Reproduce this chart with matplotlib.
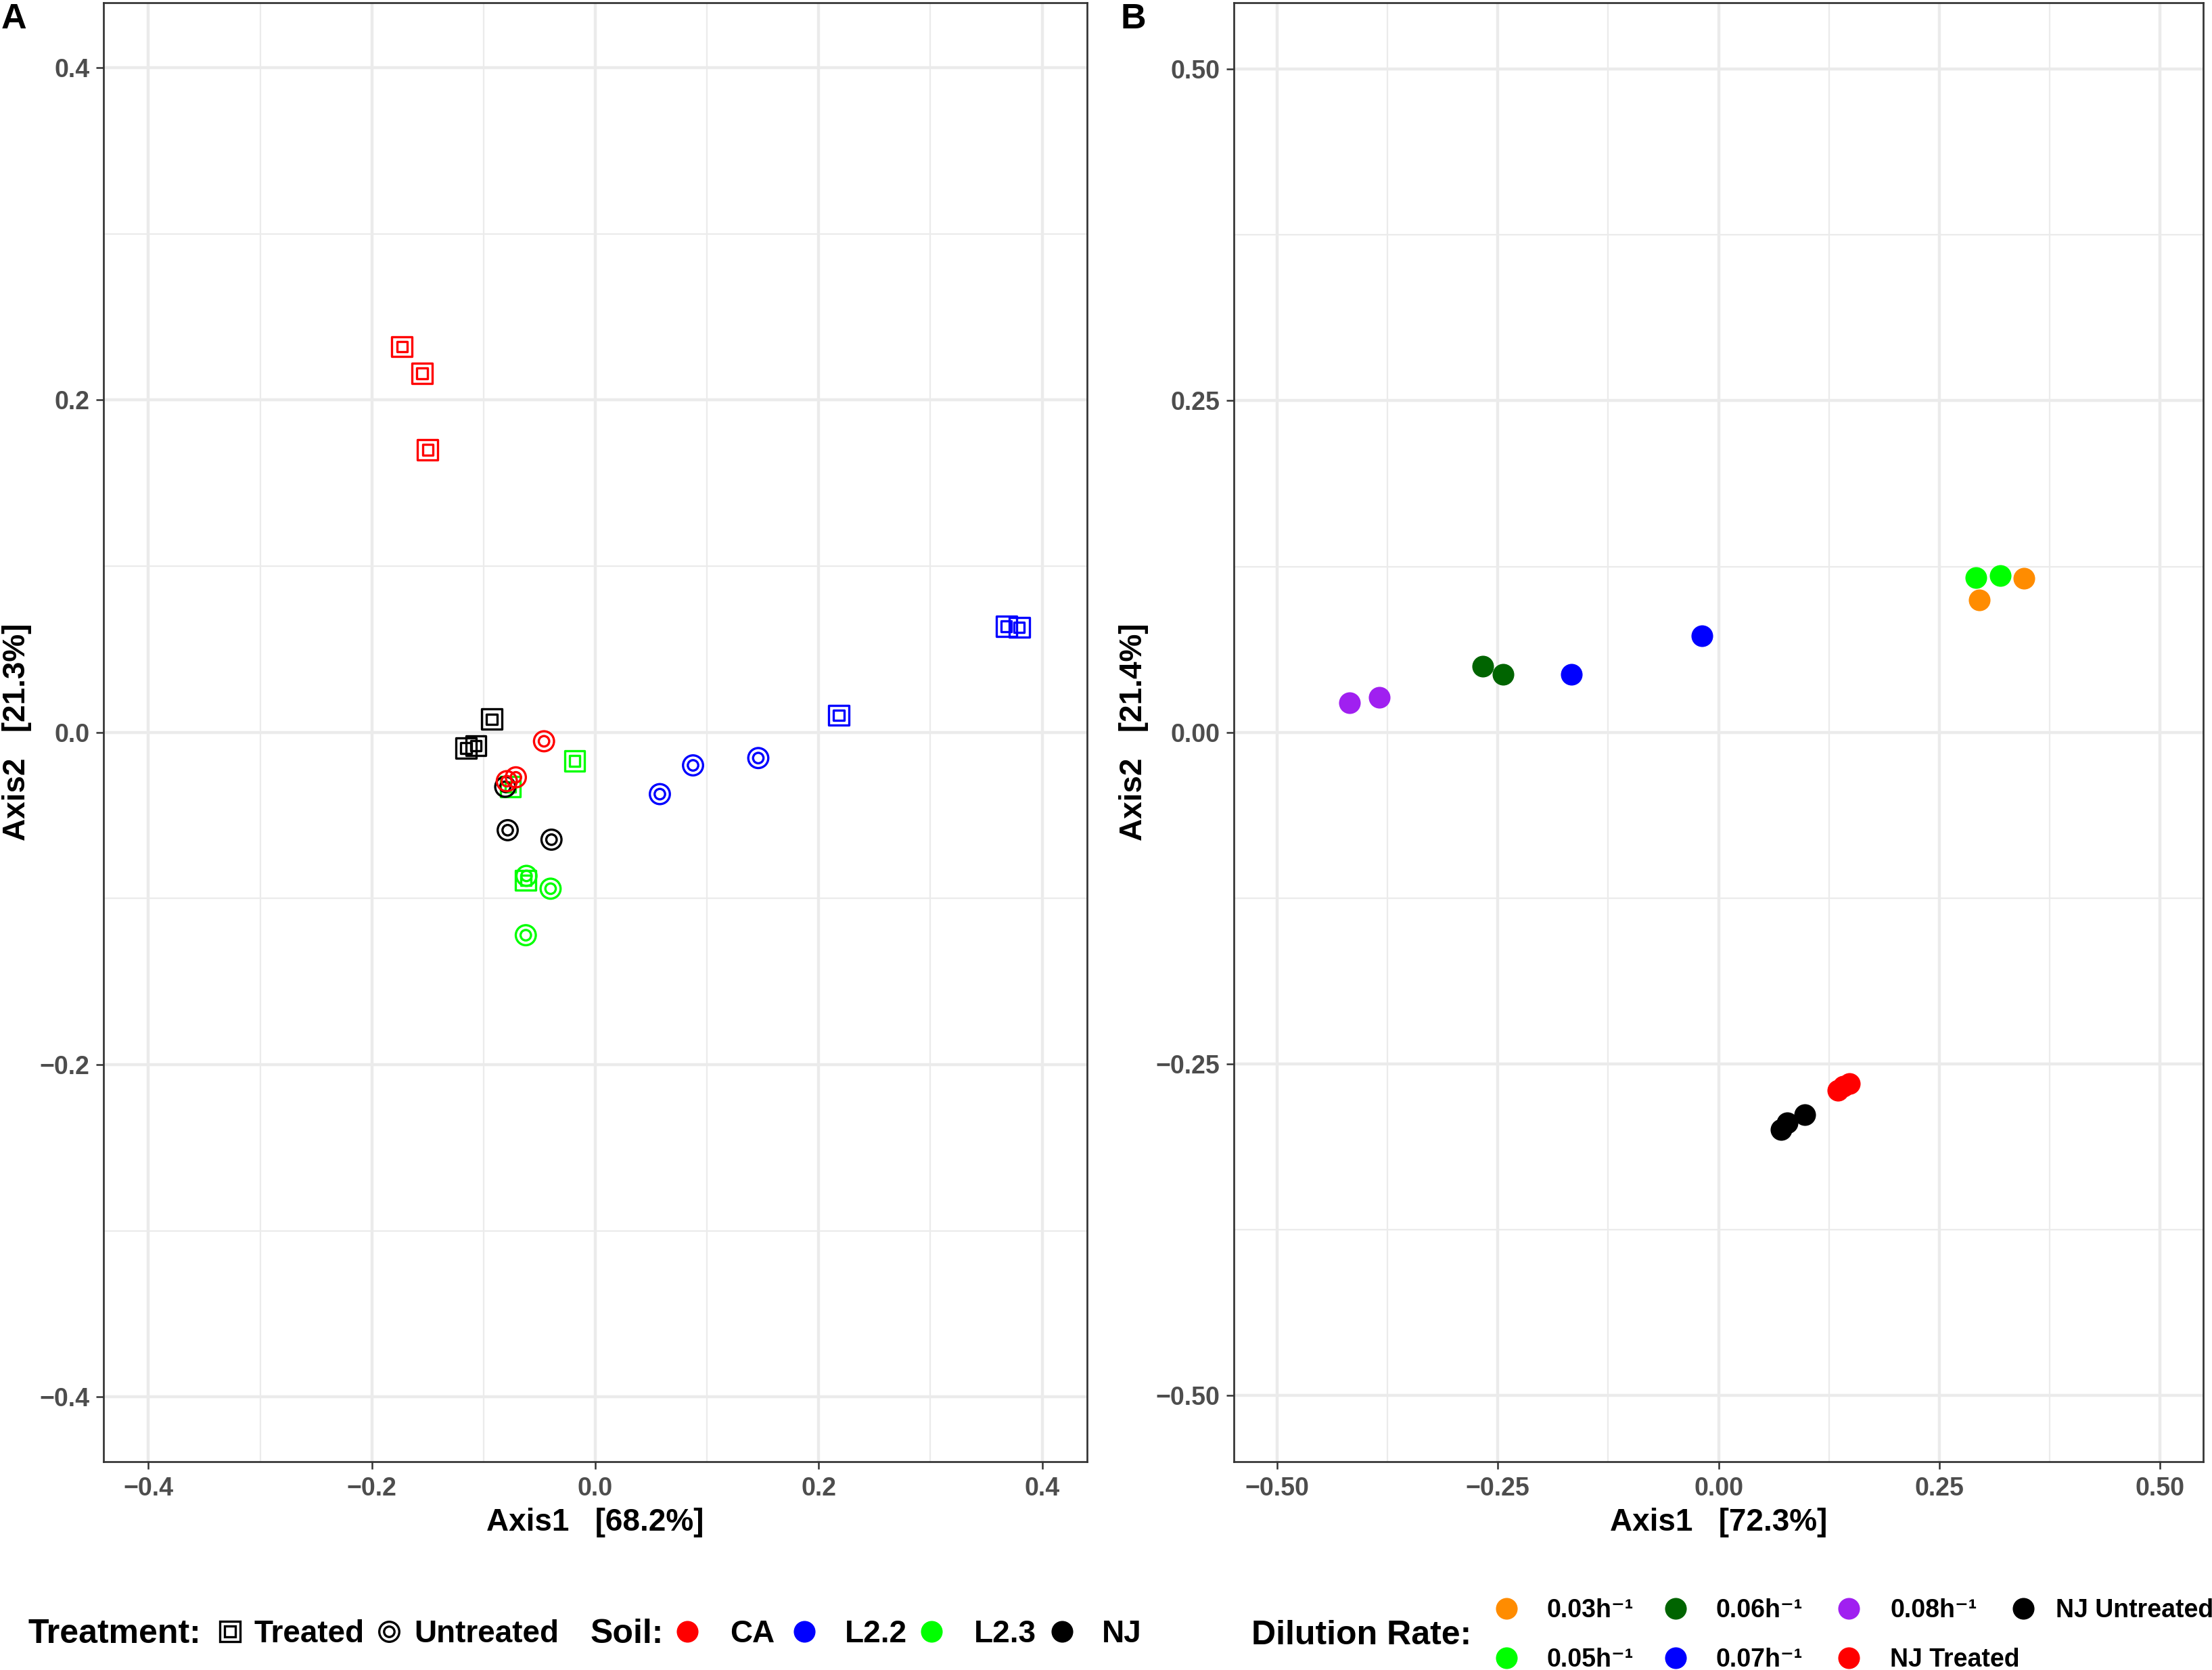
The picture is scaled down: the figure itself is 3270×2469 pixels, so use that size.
import matplotlib
matplotlib.use("Agg")
import matplotlib.pyplot as plt
from matplotlib.lines import Line2D
from matplotlib.ticker import FixedLocator, FuncFormatter

plt.rcParams['font.family'] = ['Liberation Sans', 'DejaVu Sans']
plt.rcParams['font.weight'] = 'bold'

W, H, DPI = 3270, 2469, 300

# ---------------- Panel A data ----------------
soils = ['CA', 'L2.2', 'L2.3', 'NJ']
soil_colors = ['#FF0000', '#0000FF', '#00FF00', '#000000']
treated_x = [[-0.173, -0.155, -0.150],
             [0.368, 0.3795, 0.218],
             [-0.0184, -0.0759, -0.0622],
             [-0.0927, -0.1157, -0.1068]]
treated_y = [[0.232, 0.216, 0.170],
             [0.0638, 0.0632, 0.0103],
             [-0.0172, -0.0328, -0.0891],
             [0.0079, -0.0095, -0.0080]]
untreated_x = [[-0.0459, -0.0711, -0.0792],
               [0.0578, 0.0875, 0.1459],
               [-0.0616, -0.0400, -0.0622],
               [-0.0806, -0.0784, -0.0392]]
untreated_y = [[-0.0054, -0.0271, -0.0294],
               [-0.0372, -0.0199, -0.0155],
               [-0.0864, -0.0941, -0.1221],
               [-0.0328, -0.0589, -0.0646]]
treatments = ['Treated', 'Untreated']
a_xlabel = 'Axis1   [68.2%]'
a_ylabel = 'Axis2   [21.3%]'
a_ticks = [-0.4, -0.2, 0.0, 0.2, 0.4]

# ---------------- Panel B data ----------------
dilution_labels = ['0.03h\u207b\u00b9', '0.05h\u207b\u00b9', '0.06h\u207b\u00b9',
                   '0.07h\u207b\u00b9', '0.08h\u207b\u00b9', 'NJ Treated', 'NJ Untreated']
dilution_colors = ['#FF8C00', '#00FF00', '#006400', '#0000FF', '#A020F0', '#FF0000', '#000000']
dilution_x = [[0.3456, 0.2953],
              [0.2912, 0.3193],
              [-0.2672, -0.2437],
              [-0.1664, -0.0188],
              [-0.4177, -0.3843],
              [0.135, 0.141, 0.148],
              [0.0711, 0.0776, 0.0979]]
dilution_y = [[0.1162, 0.0998],
              [0.1168, 0.1181],
              [0.0498, 0.0439],
              [0.0436, 0.0726],
              [0.0224, 0.0262],
              [-0.270, -0.267, -0.265],
              [-0.2996, -0.2947, -0.2886]]
b_xlabel = 'Axis1   [72.3%]'
b_ylabel = 'Axis2   [21.4%]'
b_ticks = [-0.50, -0.25, 0.00, 0.25, 0.50]

# ---------------- style ----------------
GRID = '#EBEBEB'
BORDER = '#333333'
TICKLAB = '#4D4D4D'
OUT_SQ, IN_SQ = 7.1, 3.7
OUT_CI, IN_CI = 7.1, 3.7
MLW = 0.8
DOT = 7.7

fig = plt.figure(figsize=(W / DPI, H / DPI), dpi=DPI)
fig.patch.set_facecolor('white')

top_px, bot_px = 4.3, 2161.0
axA = fig.add_axes([153.3 / W, 1 - bot_px / H, (1606.7 - 153.3) / W, (bot_px - top_px) / H])
axB = fig.add_axes([1824.3 / W, 1 - bot_px / H, (3256.7 - 1824.3) / W, (bot_px - top_px) / H])


def fmt(dec):
    def f(v, p):
        if abs(v) < 1e-9:
            v = 0.0
        return f"{v:.{dec}f}".replace('-', '\u2212')
    return FuncFormatter(f)


def style_axes(ax, ticks, minors, lim_x, lim_y, dec):
    ax.set_xlim(*lim_x)
    ax.set_ylim(*lim_y)
    ax.xaxis.set_major_locator(FixedLocator(ticks))
    ax.yaxis.set_major_locator(FixedLocator(ticks))
    ax.xaxis.set_minor_locator(FixedLocator(minors))
    ax.yaxis.set_minor_locator(FixedLocator(minors))
    ax.xaxis.set_major_formatter(fmt(dec))
    ax.yaxis.set_major_formatter(fmt(dec))
    ax.grid(which='major', color=GRID, lw=1.07)
    ax.grid(which='minor', color=GRID, lw=0.53)
    ax.set_axisbelow(True)
    ax.tick_params(which='minor', length=0)
    ax.tick_params(which='major', length=2.64, width=0.6, color=BORDER,
                   labelcolor=TICKLAB, labelsize=9)
    ax.tick_params(axis='x', which='major', pad=2.6)
    ax.tick_params(axis='y', which='major', pad=2.4)
    for sp in ax.spines.values():
        sp.set_color(BORDER)
        sp.set_linewidth(0.65)
    for lab in ax.get_xticklabels() + ax.get_yticklabels():
        lab.set_fontweight('bold')


style_axes(axA, a_ticks, [-0.3, -0.1, 0.1, 0.3], (-0.44, 0.44), (-0.4389, 0.4389), 1)
style_axes(axB, b_ticks, [-0.375, -0.125, 0.125, 0.375], (-0.5485, 0.5485), (-0.550, 0.550), 2)

# Panel A points: treated (square in square), untreated (circle in circle)
for i, c in enumerate(soil_colors):
    axA.scatter(treated_x[i], treated_y[i], marker='s', s=OUT_SQ ** 2,
                facecolors='none', edgecolors=c, linewidths=MLW, zorder=3)
    axA.scatter(treated_x[i], treated_y[i], marker='s', s=IN_SQ ** 2,
                facecolors='none', edgecolors=c, linewidths=MLW, zorder=3)
for i in [3, 2, 1, 0]:
    c = soil_colors[i]
    axA.scatter(untreated_x[i], untreated_y[i], marker='o', s=OUT_CI ** 2,
                facecolors='none', edgecolors=c, linewidths=MLW, zorder=4)
    axA.scatter(untreated_x[i], untreated_y[i], marker='o', s=IN_CI ** 2,
                facecolors='none', edgecolors=c, linewidths=MLW, zorder=4)

# Panel B points
for i, c in enumerate(dilution_colors):
    axB.scatter(dilution_x[i], dilution_y[i], marker='o', s=DOT ** 2,
                color=c, linewidths=0, zorder=3)

# axis labels
for ax, xl in ((axA, a_xlabel), (axB, b_xlabel)):
    pos = ax.get_position()
    fig.text((pos.x0 + pos.x1) / 2, 1 - 2263 / H, xl, ha='center', va='baseline',
             fontsize=11, fontweight='bold', color='black')
yc = 1 - ((top_px + bot_px) / 2) / H
fig.text(37.5 / W, yc, a_ylabel, rotation=90, rotation_mode='anchor',
         ha='center', va='baseline', fontsize=11, fontweight='bold')
fig.text(1688 / W, yc, b_ylabel, rotation=90, rotation_mode='anchor',
         ha='center', va='baseline', fontsize=11, fontweight='bold')

# panel tags
fig.text(2 / W, 1 - 42 / H, 'A', ha='left', va='baseline', fontsize=12.5, fontweight='bold')
fig.text(1656 / W, 1 - 42 / H, 'B', ha='left', va='baseline', fontsize=12.5, fontweight='bold')


# ---------------- legends ----------------
def add_key(handle, label, cx_px, tx_px, cy_px, fs, L=1.0):
    fs_px = fs * DPI / 72
    s = cx_px - L * fs_px / 2
    pad = (tx_px - s - L * fs_px) / fs_px
    fig.legend([handle], [label], loc='center left',
               bbox_to_anchor=(s / W, 1 - cy_px / H), bbox_transform=fig.transFigure,
               handlelength=L, handletextpad=pad, borderpad=0, borderaxespad=0,
               frameon=False, prop={'weight': 'bold', 'size': fs})


LEG_Y = 2416
fig.text(41 / W, 1 - LEG_Y / H, 'Treatment:', ha='left', va='center', fontsize=12, fontweight='bold')
fig.text(873 / W, 1 - LEG_Y / H, 'Soil:', ha='left', va='center', fontsize=12, fontweight='bold')

sq_handle = (Line2D([], [], ls='none', marker='s', ms=OUT_SQ, mfc='none', mec='black', mew=MLW),
             Line2D([], [], ls='none', marker='s', ms=IN_SQ, mfc='none', mec='black', mew=MLW))
ci_handle = (Line2D([], [], ls='none', marker='o', ms=OUT_CI, mfc='none', mec='black', mew=MLW),
             Line2D([], [], ls='none', marker='o', ms=IN_CI, mfc='none', mec='black', mew=MLW))
add_key(sq_handle, treatments[0], 340, 376, LEG_Y, 11, L=0.8)
add_key(ci_handle, treatments[1], 575, 612, LEG_Y, 11, L=0.8)

soil_key_x = [1016, 1189, 1377, 1570]
soil_text_x = [1079, 1249, 1440, 1629]
for i, lab in enumerate(soils):
    h = Line2D([], [], ls='none', marker='o', ms=DOT, color=soil_colors[i], mew=0)
    add_key(h, lab, soil_key_x[i], soil_text_x[i], LEG_Y, 11)

fig.text(1850 / W, 1 - 2418 / H, 'Dilution Rate:', ha='left', va='center', fontsize=12, fontweight='bold')
dil_key_x = [2227, 2227, 2477, 2477, 2733, 2733, 2991]
dil_text_x = [2286, 2286, 2536, 2536, 2794, 2794, 3039]
dil_key_y = [2381, 2454, 2381, 2454, 2381, 2454, 2381]
for i, lab in enumerate(dilution_labels):
    h = Line2D([], [], ls='none', marker='o', ms=DOT, color=dilution_colors[i], mew=0)
    add_key(h, lab, dil_key_x[i], dil_text_x[i], dil_key_y[i], 9)

fig.savefig('out.png', dpi=DPI, facecolor='white')
